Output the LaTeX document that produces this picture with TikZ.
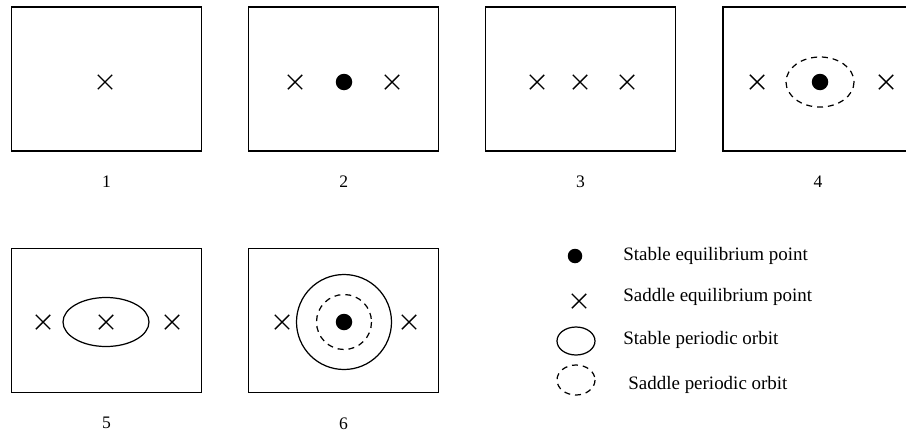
\documentclass[tikz,border=0pt]{standalone}
\usepackage{fontspec}
\setmainfont{Liberation Serif}
\usetikzlibrary{positioning,shapes.misc}

\begin{document}
\begin{tikzpicture}[x=0.02cm,y=-0.02cm]
    \tikzset{panel/.style={draw, rectangle, line width=0.7pt, minimum width=3.8cm, minimum height=2.88cm, inner sep=0},
    saddle/.style={draw, cross out, line width=0.8pt, minimum size=0.26cm, inner sep=0},
    stable/.style={fill=black, circle, minimum size=0.33cm, inner sep=0},
    sorbit/.style={line width=0.7pt},
    uorbit/.style={line width=0.7pt, dash pattern=on 3.4pt off 2.8pt},
    num/.style={inner sep=0, font=\normalsize},
    legtext/.style={anchor=west, inner sep=0, font=\fontsize{10.8}{13}\selectfont},
    }
    \useasboundingbox (0,0) rectangle (906,433);
    %% panels
    \node [panel] (p1) at (106.5,79) {};
    \node [panel] (p2) at (343.75,79) {};
    \node [panel] (p3) at (580.5,79) {};
    \node [panel] (p4) at (818,79) {};
    \node [panel] (p5) at (106.5,320.5) {};
    \node [panel] (p6) at (343.5,320.5) {};
    \foreach \i in {1,...,6}
        \node [num, below=0.48cm of p\i] (n\i) {\i};

    %% panel 1
    \node [saddle] (s11) at (105,82) {};
    %% panel 2
    \node [saddle] (s21) at (295,82) {};
    \node [stable] (e21) at (344,82) {};
    \node [saddle] (s22) at (392,82) {};
    %% panel 3
    \node [saddle] (s31) at (537,82) {};
    \node [saddle] (s32) at (580,82) {};
    \node [saddle] (s33) at (627,82) {};
    %% panel 4
    \node [saddle] (s41) at (757,82) {};
    \node [stable] (e41) at (820,82) {};
    \node [saddle] (s42) at (886,82) {};
    \draw [uorbit] (e41) ellipse [x radius=34, y radius=25];
    %% panel 5
    \node [saddle] (s51) at (43,322) {};
    \node [saddle] (s52) at (106,322) {};
    \node [saddle] (s53) at (172,322) {};
    \draw [sorbit] (s52) ellipse [x radius=43, y radius=24.5];
    %% panel 6
    \node [saddle] (s61) at (282,322) {};
    \node [stable] (e61) at (344,322) {};
    \node [saddle] (s62) at (409,322) {};
    \draw [sorbit] (e61) circle [radius=47.5];
    \draw [uorbit] (e61) circle [radius=27.5];

    %% legend
    \node [stable, minimum size=0.29cm] (lst) at (575,256) {};
    \node [saddle] (lsa) at (579,301) {};
    \coordinate (lso) at (576,341);
    \coordinate (luo) at (576,380);
    \draw [sorbit] (lso) ellipse [x radius=19, y radius=14];
    \draw [uorbit] (luo) ellipse [x radius=19, y radius=15];
    \node [legtext] at (623,256) {Stable equilibrium point};
    \node [legtext] at (623,297) {Saddle equilibrium point};
    \node [legtext] at (623,340) {Stable periodic orbit};
    \node [legtext] at (628,385) {Saddle periodic orbit};
\end{tikzpicture}
\end{document}
